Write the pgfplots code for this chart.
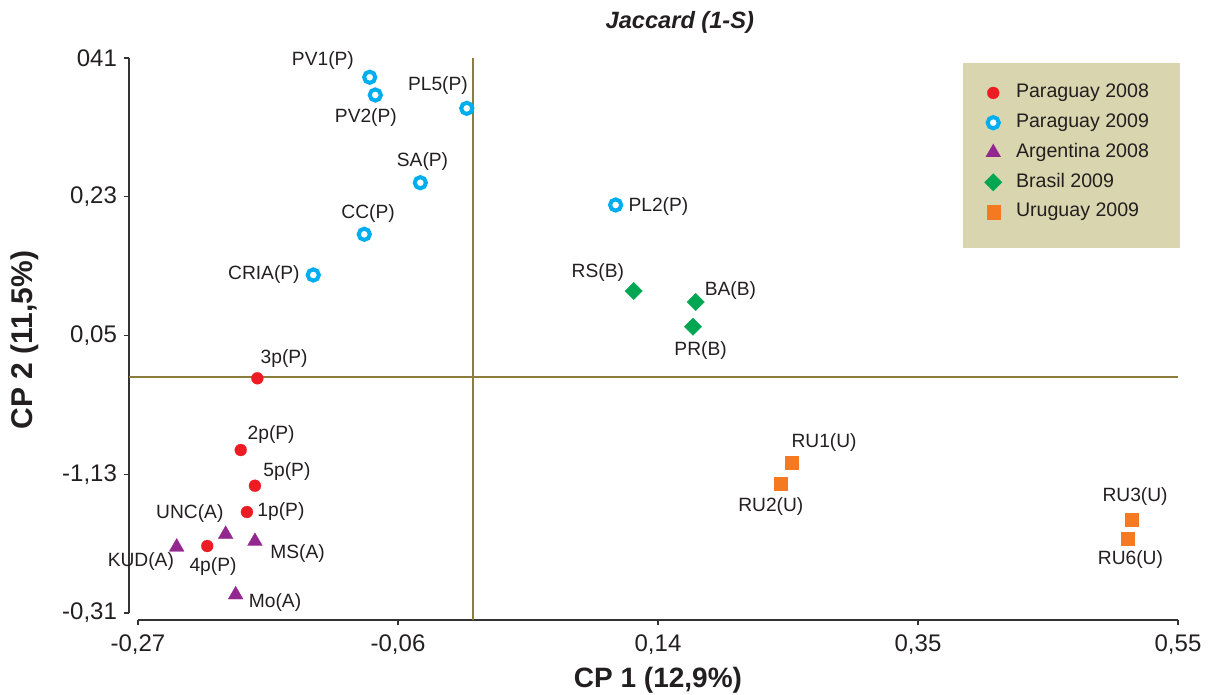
\documentclass[border=0pt]{standalone}
\usepackage{fontspec}
\setmainfont{Liberation Sans}
\usepackage{pgfplots}
\pgfplotsset{compat=1.18}
\usepackage{pgfplotstable}

\definecolor{pyred}{HTML}{ED1C24}
\definecolor{pycyan}{HTML}{00AEEF}
\definecolor{arpurple}{HTML}{92278F}
\definecolor{brgreen}{HTML}{00A651}
\definecolor{uyorange}{HTML}{F47920}
\definecolor{legfill}{HTML}{D9D5AE}
\definecolor{olive}{HTML}{8C7D3C}
\definecolor{ink}{HTML}{231F20}

% x y label-offset(dx dy, pt) label
\pgfplotstableread{
x y dx dy lab
-0.1759 -0.0055 13.4 9.7 3p(P)
-0.1890 -0.0986 15.2 8.0 2p(P)
-0.1778 -0.1449 16.0 6.9 5p(P)
-0.1841 -0.1790 17.0 0.0 1p(P)
-0.2154 -0.2231 2.9 -10.5 4p(P)
}\paraOcho
\pgfplotstableread{
x y dx dy lab
-0.0873 0.3850 -23.4 8.2 PV1(P)
-0.0829 0.3620 -4.7 -11.5 PV2(P)
-0.0108 0.3447 -14.4 11.2 PL5(P)
-0.0474 0.2482 1.1 10.4 SA(P)
-0.0916 0.1813 1.9 10.2 CC(P)
-0.1318 0.1285 -24.7 0.0 CRIA(P)
0.1066 0.2193 21.4 -0.8 PL2(P)
}\paraNueve
\pgfplotstableread{
x y dx dy lab
-0.2009 -0.2079 -17.9 10.2 UNC(A)
-0.2395 -0.2244 -17.9 -7.5 KUD(A)
-0.1778 -0.2170 21.3 -5.9 MS(A)
-0.1930 -0.2863 19.7 -3.7 Mo(A)
}\argOcho
\pgfplotstableread{
x y dx dy lab
0.1208 0.1077 -17.9 9.3 RS(B)
0.1697 0.0934 17.4 6.0 BA(B)
0.1676 0.0614 3.8 -11.7 PR(B)
}\braNueve
\pgfplotstableread{
x y dx dy lab
0.2454 -0.1150 16.2 9.9 RU1(U)
0.2364 -0.1423 -4.7 -11.2 RU2(U)
0.5135 -0.1885 1.7 11.2 RU3(U)
0.5103 -0.2131 1.4 -10.6 RU6(U)
}\uruNueve

\pgfplotsset{
  lbl/.style={only marks, forget plot,
    nodes near coords, point meta=explicit symbolic,
    visualization depends on={\thisrow{dx} \as \ldx},
    visualization depends on={\thisrow{dy} \as \ldy},
    every node near coord/.append style={anchor=center, xshift=\ldx pt, yshift=\ldy pt,
      font=\fontsize{9.6}{11}\selectfont, text=ink, inner sep=0pt}},
  mkpr/.style={only marks, color=pyred, mark=*, mark size=3pt,
    mark options={draw=pyred, fill=pyred, line width=0.1pt}},
  mkpc/.style={only marks, color=pycyan, mark=*, mark size=2.8pt,
    mark options={draw=pycyan, fill=white, line width=2pt}},
  mkar/.style={only marks, color=arpurple, mark=triangle*, mark size=4.3pt,
    mark options={draw=arpurple, fill=arpurple, line width=0.1pt}},
  mkbr/.style={only marks, color=brgreen, mark=square*, mark size=3.1pt,
    mark options={rotate=45, draw=brgreen, fill=brgreen, line width=0.1pt}},
  mkuy/.style={only marks, color=uyorange, mark=square*, mark size=3.3pt,
    mark options={draw=uyorange, fill=uyorange, line width=0.1pt}},
}

\begin{document}
\begin{tikzpicture}
\path[use as bounding box] (-69pt,-41pt) rectangle (538pt,306.5pt);
\begin{axis}[
  at={(0pt,0pt)}, anchor=south west,
  scale only axis, width=520pt, height=277.5pt,
  xmin=-0.27, xmax=0.55, ymin=-0.31, ymax=0.41,
  clip=false,
  axis x line*=bottom, axis y line*=left,
  axis x line shift=3.5pt, axis y line shift=4.5pt,
  axis line style={draw=black!80, line width=0.65pt, -},
  tick align=outside, major tick length=2.5pt,
  tick style={draw=black!80, line width=0.65pt},
  xtick={-0.27,-0.065,0.14,0.345,0.55},
  xticklabels={{-0,27},{-0,06},{0,14},{0,35},{0,55}},
  ytick={-0.31,-0.13,0.05,0.23,0.41},
  yticklabels={{-0,31},{-1,13},{0,05},{0,23},{041}},
  ticklabel style={font=\fontsize{12}{14}\selectfont, text=ink},
  xticklabel style={yshift=-1.5pt},
  xlabel={CP 1 (12,9\%)},
  ylabel={CP 2 (11,5\%)},
  xlabel style={at={(rel axis cs:0.5,0)}, anchor=base, yshift=-37.5pt,
    font=\bfseries\fontsize{14}{16}\selectfont, text=ink},
  ylabel style={at={(rel axis cs:0,0.492)}, anchor=center, yshift=56.5pt,
    font=\bfseries\fontsize{15}{17}\selectfont, text=ink},
  title={Jaccard (1-S)},
  title style={at={(rel axis cs:0.521,1)}, anchor=base, yshift=9pt,
    font=\bfseries\itshape\fontsize{11.8}{13}\selectfont, text=ink},
  legend image code/.code={\draw[#1] plot coordinates {(0pt,0pt)};},
  legend cell align=left,
  legend style={at={(rel axis cs:0.893,0.8297)}, anchor=center,
    draw=none, fill=none, inner sep=0pt, row sep=5.7pt, column sep=7pt,
    font=\fontsize{9.8}{11}\selectfont, text=ink,
    nodes={inner sep=0pt, text height=7pt, text depth=2.2pt}},
]
\fill[legfill] (rel axis cs:0.7933,0.6577) rectangle (rel axis cs:1.0019,0.991);
\draw[olive, line width=0.9pt] (axis cs:-0.006,0.41) -- ([yshift=-3.5pt]axis cs:-0.006,-0.31);
\draw[olive, line width=0.9pt] ([xshift=-4.5pt]axis cs:-0.27,-0.004) -- (axis cs:0.55,-0.004);

\addplot[lbl, mkpr] table[x=x, y=y, meta=lab] {\paraOcho};
\addplot[lbl, mkpc] table[x=x, y=y, meta=lab] {\paraNueve};
\addplot[lbl, mkar] table[x=x, y=y, meta=lab] {\argOcho};
\addplot[lbl, mkbr] table[x=x, y=y, meta=lab] {\braNueve};
\addplot[lbl, mkuy] table[x=x, y=y, meta=lab] {\uruNueve};

\addlegendimage{mkpr}\addlegendentry{Paraguay 2008}
\addlegendimage{mkpc}\addlegendentry{Paraguay 2009}
\addlegendimage{mkar}\addlegendentry{Argentina 2008}
\addlegendimage{mkbr}\addlegendentry{Brasil 2009}
\addlegendimage{mkuy}\addlegendentry{Uruguay 2009}
\end{axis}
\end{tikzpicture}
\end{document}
